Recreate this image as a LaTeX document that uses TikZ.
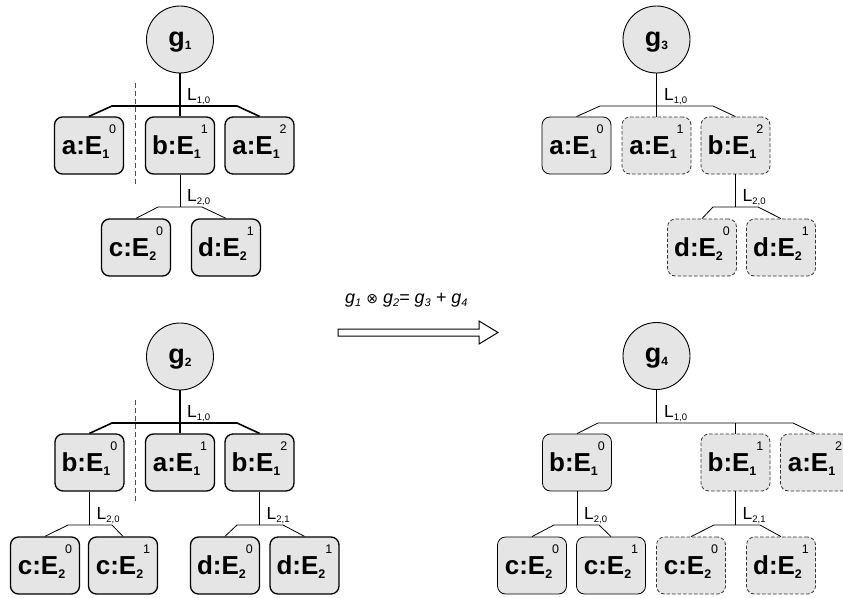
\documentclass[tikz,border=0pt]{standalone}
\usepackage{fontspec}
\setmainfont{Liberation Sans}
\newfontfamily\symfont{DejaVu Sans}
\definecolor{boxgray}{HTML}{E5E5E5}

% element label: name:E with bold subscript and light superscript
\newcommand\elbl[3]{\smash{\raisebox{-9.3pt}{\fontsize{26}{26}\selectfont\bfseries #1:E\raisebox{-3.5pt}{\fontsize{12.5}{12.5}\selectfont #2}\raisebox{21pt}{\fontsize{12.5}{12.5}\selectfont\mdseries #3}}}}
% graph label inside a circle
\newcommand\glbl[1]{\smash{\raisebox{-6.75pt}{\fontsize{27}{27}\selectfont\bfseries g\raisebox{-3pt}{\fontsize{12}{12}\selectfont #1}}}}
% level label L_{i,j}
\newcommand\llbl[1]{\fontsize{17.5}{17.5}\selectfont L\raisebox{-3pt}{\fontsize{9.5}{9.5}\selectfont #1}}

\tikzset{
  ebox/.style={draw, rounded corners=8pt, fill=boxgray, minimum width=69pt, minimum height=57pt, inner sep=0pt},
  heavy/.style={ebox, line width=1.3pt},
  light/.style={ebox, line width=0.8pt},
  ghost/.style={ebox, line width=0.8pt, dash pattern=on 3.5pt off 2pt, draw=black!80},
  gcirc/.style={draw, circle, fill=boxgray, minimum size=67pt, inner sep=0pt, line width=0.9pt},
  bold link/.style={line width=1.6pt},
  thin link/.style={line width=0.8pt},
  lab/.style={anchor=base west, inner sep=0pt},
  cut/.style={dash pattern=on 5pt off 3pt, line width=0.9pt, draw=black!70}
}

\begin{document}
\begin{tikzpicture}[x=1pt, y=-1pt]
\useasboundingbox (0,0) rectangle (843,597);

% ---------------- g1 ----------------
\node[gcirc] (g1) at (180,39.5) {\glbl{1}};
\node[heavy] (g1a) at (89,145.5) {\elbl{a}{1}{0}};
\node[heavy] (g1b) at (180,145.5) {\elbl{b}{1}{1}};
\node[heavy] (g1c) at (259.5,145.5) {\elbl{a}{1}{2}};
\node[heavy] (g1d) at (136,247.5) {\elbl{c}{2}{0}};
\node[heavy] (g1e) at (226,247.5) {\elbl{d}{2}{1}};
\coordinate (g1l) at (112,106); \coordinate (g1r) at (237,106);
\draw[bold link] (g1a.north) -- (g1l) -- (g1r) -- (g1c.north);
\draw[bold link] (g1.south) -- (g1b.north);
\coordinate (g1ml) at (158,207); \coordinate (g1mr) at (202,207);
\draw[thin link] (g1d.north) -- (g1ml) -- (g1mr) -- (g1e.north);
\draw[thin link] (g1b.south) -- (g1b.south |- g1ml);
\node[lab] (g1L10) at (187,100) {\llbl{1,0}};
\node[lab] (g1L20) at (187,201) {\llbl{2,0}};
\coordinate (g1s1) at (135,83); \coordinate (g1s2) at (135,185);
\draw[cut] (g1s1) -- (g1s2);

% ---------------- g2 ----------------
\node[gcirc] (g2) at (180,356.5) {\glbl{2}};
\node[heavy] (g2a) at (89.5,462.5) {\elbl{b}{1}{0}};
\node[heavy] (g2b) at (180,462.5) {\elbl{a}{1}{1}};
\node[heavy] (g2c) at (259.5,462.5) {\elbl{b}{1}{2}};
\node[heavy] (g2d) at (45,565.5) {\elbl{c}{2}{0}};
\node[heavy] (g2e) at (123,565.5) {\elbl{c}{2}{1}};
\node[heavy] (g2f) at (225,565.5) {\elbl{d}{2}{0}};
\node[heavy] (g2g) at (304.5,565.5) {\elbl{d}{2}{1}};
\coordinate (g2l) at (112,423); \coordinate (g2r) at (237,423);
\draw[bold link] (g2a.north) -- (g2l) -- (g2r) -- (g2c.north);
\draw[bold link] (g2.south) -- (g2b.north);
\coordinate (g2ml) at (68,525); \coordinate (g2mr) at (112,525);
\draw[thin link] (g2d.north) -- (g2ml) -- (g2mr) -- (g2e.north);
\draw[thin link] (g2a.south) -- (g2a.south |- g2ml);
\coordinate (g2nl) at (237,525); \coordinate (g2nr) at (283,525);
\draw[thin link] (g2f.north) -- (g2nl) -- (g2nr) -- (g2g.north);
\draw[thin link] (g2c.south) -- (g2c.south |- g2nl);
\node[lab] (g2L10) at (187,417) {\llbl{1,0}};
\node[lab] (g2L20) at (96.5,519) {\llbl{2,0}};
\node[lab] (g2L21) at (266.5,519) {\llbl{2,1}};
\coordinate (g2s1) at (135,400); \coordinate (g2s2) at (135,502);
\draw[cut] (g2s1) -- (g2s2);

% ---------------- g3 ----------------
\node[gcirc] (g3) at (656.5,39.5) {\glbl{3}};
\node[light] (g3a) at (576.5,145.5) {\elbl{a}{1}{0}};
\node[ghost] (g3b) at (656.5,145.5) {\elbl{a}{1}{1}};
\node[ghost] (g3c) at (735.5,145.5) {\elbl{b}{1}{2}};
\node[ghost] (g3d) at (702,247.5) {\elbl{d}{2}{0}};
\node[ghost] (g3e) at (781,247.5) {\elbl{d}{2}{1}};
\coordinate (g3l) at (600,106); \coordinate (g3r) at (713,106);
\draw[thin link] (g3a.north) -- (g3l) -- (g3r) -- (g3c.north);
\draw[thin link] (g3.south) -- (g3b.north);
\coordinate (g3ml) at (713,207); \coordinate (g3mr) at (758,207);
\draw[thin link] (g3d.north) -- (g3ml) -- (g3mr) -- (g3e.north);
\draw[thin link] (g3c.south) -- (g3c.south |- g3ml);
\node[lab] (g3L10) at (664,100) {\llbl{1,0}};
\node[lab] (g3L20) at (742.5,201) {\llbl{2,0}};

% ---------------- g4 ----------------
\node[gcirc] (g4) at (656.5,356) {\glbl{4}};
\node[light] (g4a) at (577,462.5) {\elbl{b}{1}{0}};
\node[ghost] (g4b) at (735.5,462.5) {\elbl{b}{1}{1}};
\node[ghost] (g4c) at (815,462.5) {\elbl{a}{1}{2}};
\node[light] (g4d) at (532,565.5) {\elbl{c}{2}{0}};
\node[light] (g4e) at (611,565.5) {\elbl{c}{2}{1}};
\node[ghost] (g4f) at (691,565.5) {\elbl{c}{2}{0}};
\node[ghost] (g4g) at (781,565.5) {\elbl{d}{2}{1}};
\coordinate (g4l) at (598,423); \coordinate (g4r) at (793,423);
\draw[thin link] (g4a.north) -- (g4l) -- (g4r) -- (g4c.north);
\draw[thin link] (g4.south) -- (g4.south |- g4l);
\draw[thin link] (g4b.north) -- (g4b.north |- g4l);
\coordinate (g4ml) at (554,525); \coordinate (g4mr) at (599,525);
\draw[thin link] (g4d.north) -- (g4ml) -- (g4mr) -- (g4e.north);
\draw[thin link] (g4a.south) -- (g4a.south |- g4ml);
\coordinate (g4nl) at (714,525); \coordinate (g4nr) at (760,525);
\draw[thin link] (g4f.north) -- (g4nl) -- (g4nr) -- (g4g.north);
\draw[thin link] (g4b.south) -- (g4b.south |- g4nl);
\node[lab] (g4L10) at (664,417) {\llbl{1,0}};
\node[lab] (g4L20) at (584,519) {\llbl{2,0}};
\node[lab] (g4L21) at (742.5,519) {\llbl{2,1}};

% ---------------- product arrow ----------------
\node[lab] (eq) at (345,303) {\fontsize{18}{18}\selectfont\itshape g\raisebox{-3pt}{\fontsize{11}{11}\selectfont 1} {\symfont\upshape\fontsize{14}{14}\selectfont ⊗} g\raisebox{-3pt}{\fontsize{11}{11}\selectfont 2}= g\raisebox{-3pt}{\fontsize{11}{11}\selectfont 3} + g\raisebox{-3pt}{\fontsize{11}{11}\selectfont 4}};
\draw[line width=1pt, fill=white, line join=miter]
  (338,329) -- (479,329) -- (479,321) -- (498,332.5) -- (479,344) -- (479,336) -- (338,336) -- cycle;
\end{tikzpicture}
\end{document}
